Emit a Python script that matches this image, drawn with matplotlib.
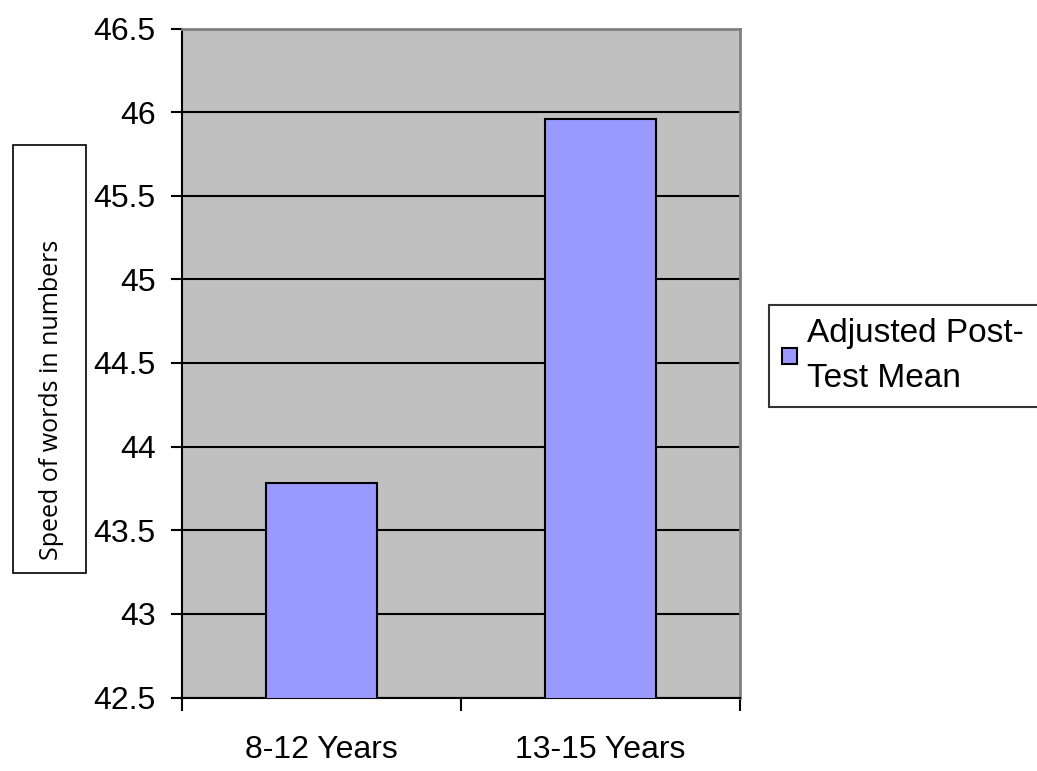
import matplotlib.pyplot as plt
import matplotlib.patches as patches
import numpy as np

categories = ['8-12 Years', '13-15 Years']
post_test_mean = [43.78, 45.96]
series_label = 'Adjusted Post-\nTest Mean'
y_ticks = [42.5, 43, 43.5, 44, 44.5, 45, 45.5, 46, 46.5]
y_label = 'Speed of words in numbers'

plt.rcParams['font.family'] = ['Liberation Sans', 'DejaVu Sans']

W, H = 1037, 771
fig = plt.figure(figsize=(W / 100, H / 100), dpi=100)
ax = fig.add_axes([182 / W, 1 - 697.5 / H, 558 / W, 669 / H])
ax.set_facecolor('#c0c0c0')

x = np.arange(len(categories))
ax.bar(x, post_test_mean, width=0.4, bottom=0, color='#9999ff',
       edgecolor='black', linewidth=1.5, label=series_label, zorder=3)

ax.set_xlim(-0.5, len(categories) - 0.5)
ax.set_ylim(y_ticks[0], y_ticks[-1])
ax.set_yticks(y_ticks)
ax.set_yticklabels(['%g' % v for v in y_ticks])
ax.yaxis.grid(True, color='black', linewidth=1.5, zorder=1)
ax.set_axisbelow(True)

# boundaries get the tick marks, centres get the labels
ax.set_xticks(np.arange(len(categories) + 1) - 0.5)
ax.set_xticklabels([])
ax.set_xticks(x, minor=True)
ax.set_xticklabels(categories, minor=True)
ax.tick_params(axis='x', which='major', length=9, width=1.5, direction='out')
ax.tick_params(axis='x', which='minor', length=0, pad=27, labelsize=23)
ax.tick_params(axis='y', length=8, width=1.5, direction='out', pad=11, labelsize=23)

ax.spines['left'].set_linewidth(1.5)
ax.spines['bottom'].set_linewidth(1.5)
ax.spines['top'].set_color('#808080')
ax.spines['right'].set_color('#808080')
ax.spines['top'].set_linewidth(2)
ax.spines['right'].set_linewidth(2)

# boxed y-axis title, as in the original
fig.patches.append(patches.Rectangle((13 / W, 1 - 573 / H), 73 / W, 428 / H,
                                     transform=fig.transFigure, fill=False,
                                     edgecolor='black', linewidth=1.2))
fig.text(52 / W, 1 - 400 / H, y_label, rotation=90, ha='center', va='center',
         fontsize=18, family=['Open Sans', 'DejaVu Sans'])

# legend frame runs past the right edge of the figure
leg = ax.legend(loc='upper left', mode='expand',
                bbox_to_anchor=(769 / W, 1 - 417 / H, 290 / W, 112 / H),
                bbox_transform=fig.transFigure, fontsize=24, frameon=True,
                fancybox=False, edgecolor='black', handlelength=0.45,
                handleheight=0.35, handletextpad=0.3, borderpad=0.4,
                borderaxespad=0)
leg.get_frame().set_linewidth(1.5)
for t in leg.get_texts():
    t.set_linespacing(1.55)

fig.savefig('out.png', dpi=100)
